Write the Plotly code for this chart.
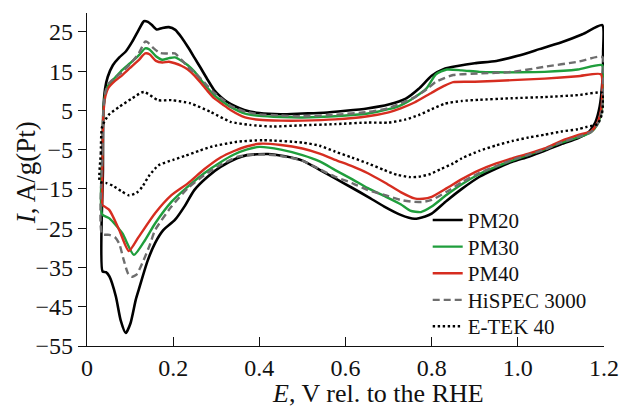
import plotly.graph_objects as go

# ---- data (E in V vs RHE, I in A/g(Pt)); closed CV loops: anodic sweep then cathodic sweep ----
pm20_E = [0.036, 0.037, 0.038, 0.042, 0.048, 0.06, 0.075, 0.09, 0.105, 0.12, 0.132, 0.14, 0.15, 0.162,
          0.175, 0.19, 0.205, 0.22, 0.235, 0.25, 0.265, 0.28, 0.295, 0.31, 0.325, 0.345, 0.365, 0.4, 0.45,
          0.5, 0.55, 0.6, 0.65, 0.7, 0.74, 0.77, 0.8, 0.83, 0.86, 0.9, 0.95, 1.0, 1.05, 1.1, 1.15, 1.196,
          1.198, 1.196, 1.19, 1.18, 1.165, 1.139, 1.1, 1.062, 1.025, 0.987, 0.95, 0.911, 0.87, 0.835, 0.8,
          0.785, 0.76, 0.728, 0.69, 0.652, 0.615, 0.576, 0.538, 0.5, 0.46, 0.42, 0.371, 0.348, 0.31, 0.28,
          0.249, 0.226, 0.204, 0.177, 0.158, 0.14, 0.12, 0.113, 0.101, 0.09, 0.078, 0.067, 0.052, 0.044, 0.036]
pm20_I = [-36.0, -10.0, 5.0, 10.5, 13.5, 16.5, 18.5, 20.0, 22.5, 25.5, 27.7, 27.6, 26.8, 25.6,
          26.0, 26.2, 25.5, 23.5, 21.0, 18.3, 15.6, 12.8, 10.2, 8.5, 7.2, 6.0, 5.1, 4.3, 4.0,
          4.2, 4.4, 4.9, 5.5, 6.5, 8.0, 10.5, 13.8, 15.6, 16.3, 17.0, 17.6, 18.9, 20.6, 22.3, 24.4, 26.7,
          20.0, 12.0, 6.0, 2.0, -0.5, -2.1, -3.6, -5.3, -6.8, -8.1, -9.8, -11.9, -15.0, -18.0, -21.3,
          -22.0, -22.6, -21.6, -19.5, -17.0, -14.7, -12.3, -10.0, -7.8, -6.7, -6.1, -6.4, -7.2, -9.4, -11.9,
          -15.3, -19.5, -22.9, -25.5, -28.8, -33.5, -40.7, -43.3, -49.2, -51.7, -48.4, -42.4, -37.3, -36.2, -36.0]

pm30_E = [0.035, 0.036, 0.038, 0.043, 0.05, 0.065, 0.082, 0.1, 0.12, 0.135, 0.145, 0.16, 0.175, 0.19,
          0.204, 0.22, 0.234, 0.25, 0.265, 0.28, 0.295, 0.315, 0.333, 0.367, 0.4, 0.45, 0.5, 0.576, 0.652,
          0.7, 0.728, 0.76, 0.788, 0.81, 0.835, 0.87, 0.911, 0.95, 1.0, 1.062, 1.139, 1.196,
          1.198, 1.195, 1.185, 1.17, 1.139, 1.1, 1.062, 1.025, 0.987, 0.95, 0.911, 0.87, 0.835, 0.8, 0.775,
          0.75, 0.728, 0.69, 0.652, 0.615, 0.576, 0.54, 0.5, 0.45, 0.4, 0.37, 0.34, 0.31, 0.272, 0.234, 0.196,
          0.158, 0.135, 0.109, 0.082, 0.052, 0.035]
pm30_I = [-21.5, -5.0, 5.0, 9.5, 11.5, 13.3, 15.3, 17.0, 19.0, 20.8, 20.5, 18.8, 17.9, 18.3,
          18.5, 17.6, 16.5, 14.8, 12.7, 10.7, 8.9, 7.2, 5.9, 4.2, 3.6, 3.3, 3.2, 3.5, 4.2,
          5.3, 6.3, 8.3, 10.6, 14.2, 15.4, 15.2, 14.8, 14.7, 14.7, 14.8, 15.4, 16.5,
          12.0, 5.0, 1.5, -0.5, -1.9, -3.2, -4.9, -6.3, -7.8, -9.3, -11.2, -13.8, -16.5, -19.5, -20.9,
          -20.5, -18.9, -16.8, -14.8, -12.5, -10.2, -8.0, -6.4, -5.0, -4.3, -5.0, -6.3, -8.2, -11.0, -14.4, -18.3,
          -23.8, -28.0, -31.8, -26.3, -22.5, -21.5]

pm40_E = [0.035, 0.036, 0.038, 0.043, 0.05, 0.065, 0.082, 0.1, 0.12, 0.135, 0.145, 0.16, 0.175, 0.19,
          0.204, 0.22, 0.234, 0.25, 0.265, 0.28, 0.295, 0.315, 0.333, 0.367, 0.4, 0.45, 0.5, 0.576, 0.652,
          0.7, 0.728, 0.76, 0.8, 0.83, 0.85, 0.9, 0.987, 1.062, 1.139, 1.193,
          1.196, 1.193, 1.184, 1.17, 1.139, 1.1, 1.062, 1.025, 0.987, 0.95, 0.911, 0.87, 0.835, 0.8, 0.78,
          0.76, 0.728, 0.69, 0.652, 0.615, 0.576, 0.54, 0.5, 0.45, 0.4, 0.37, 0.34, 0.31, 0.272, 0.234, 0.196,
          0.158, 0.12, 0.097, 0.075, 0.052, 0.035]
pm40_I = [-19.0, -5.0, 4.0, 8.8, 10.8, 12.5, 14.0, 15.8, 17.8, 19.5, 19.3, 17.6, 17.2, 17.4,
          17.0, 16.3, 15.4, 13.8, 11.9, 9.9, 8.1, 6.5, 5.1, 3.2, 2.6, 2.4, 2.4, 2.7, 3.5,
          4.5, 5.5, 7.0, 9.5, 11.3, 12.2, 12.3, 12.7, 13.1, 13.7, 14.2,
          10.0, 5.0, 1.7, -0.3, -1.3, -2.8, -4.7, -6.0, -7.2, -8.5, -10.2, -12.5, -14.8, -17.0, -17.5,
          -17.4, -15.8, -13.3, -11.0, -9.2, -7.6, -6.0, -4.7, -3.8, -3.5, -4.2, -5.4, -7.0, -10.0, -13.6, -16.6,
          -21.2, -27.2, -30.8, -25.5, -20.4, -19.1]

hisp_E = [0.035, 0.036, 0.038, 0.043, 0.05, 0.065, 0.082, 0.1, 0.12, 0.135, 0.14, 0.155, 0.17, 0.185,
          0.204, 0.22, 0.234, 0.25, 0.265, 0.28, 0.295, 0.315, 0.333, 0.367, 0.4, 0.45, 0.5, 0.576, 0.652,
          0.7, 0.728, 0.76, 0.79, 0.81, 0.85, 0.91, 0.987, 1.062, 1.14, 1.196,
          1.198, 1.195, 1.185, 1.17, 1.139, 1.1, 1.062, 1.025, 0.987, 0.95, 0.911, 0.87, 0.835, 0.8, 0.78,
          0.76, 0.728, 0.69, 0.652, 0.615, 0.576, 0.54, 0.5, 0.45, 0.4, 0.35, 0.31, 0.272, 0.234, 0.196,
          0.158, 0.145, 0.128, 0.115, 0.103, 0.095, 0.085, 0.075, 0.065, 0.052, 0.035]
hisp_I = [-26.5, -5.0, 5.0, 9.8, 11.8, 13.3, 14.8, 16.8, 19.5, 22.5, 22.4, 20.8, 19.6, 19.5,
          19.5, 17.8, 16.1, 14.6, 13.0, 11.2, 9.5, 7.8, 6.2, 4.7, 4.0, 3.7, 3.5, 3.9, 4.6,
          5.6, 6.8, 8.3, 10.5, 12.3, 14.0, 14.4, 14.8, 16.1, 17.4, 18.6,
          12.0, 5.0, 1.5, -0.5, -1.8, -3.2, -5.0, -6.3, -7.6, -9.2, -10.9, -13.3, -15.7, -17.8, -18.3,
          -18.3, -17.8, -16.5, -15.3, -13.5, -11.9, -10.0, -7.8, -6.6, -6.2, -6.8, -8.9, -11.5, -14.8, -19.5,
          -25.5, -29.5, -34.0, -36.8, -37.4, -36.5, -33.0, -29.0, -27.3, -26.7, -26.5]

etek_E = [0.03, 0.032, 0.035, 0.05, 0.075, 0.105, 0.132, 0.165, 0.196, 0.24, 0.287, 0.333, 0.378, 0.43,
          0.5, 0.576, 0.652, 0.7, 0.74, 0.77, 0.8, 0.83, 0.87, 0.91, 0.987, 1.062, 1.14, 1.196,
          1.198, 1.195, 1.185, 1.16, 1.139, 1.1, 1.062, 1.025, 0.987, 0.95, 0.911, 0.87, 0.85, 0.82, 0.797,
          0.77, 0.75, 0.72, 0.69, 0.652, 0.615, 0.576, 0.54, 0.5, 0.409, 0.348, 0.287, 0.26, 0.227, 0.2,
          0.166, 0.145, 0.128, 0.115, 0.097, 0.08, 0.06, 0.045, 0.03]
etek_I = [-13.2, -6.0, 0.8, 3.8, 5.9, 8.1, 9.7, 7.6, 7.6, 6.8, 4.6, 2.1, 1.3, 0.9,
          1.2, 1.5, 1.9, 1.9, 2.7, 3.8, 5.3, 6.7, 7.4, 7.7, 8.1, 8.4, 8.9, 9.5,
          8.0, 4.0, 1.5, 0.8, 0.2, -0.4, -1.2, -1.9, -2.8, -3.9, -5.3, -7.2, -8.5, -10.0, -11.2,
          -11.9, -12.0, -11.4, -10.2, -8.5, -7.0, -5.5, -4.0, -3.2, -2.6, -3.0, -4.3, -5.3, -6.6, -7.6,
          -9.0, -11.5, -14.5, -16.0, -16.6, -15.6, -14.2, -13.5, -13.2]

series_names = ["PM20", "PM30", "PM40", "HiSPEC 3000", "E-TEK 40"]
x_tick_vals = [0, 0.2, 0.4, 0.6, 0.8, 1.0, 1.2]
x_tick_text = ["0", "0.2", "0.4", "0.6", "0.8", "1.0", "1.2"]
y_tick_vals = [-55, -45, -35, -25, -15, -5, 5, 15, 25]

styles = [
    dict(color="#000000", width=2.6, dash="solid"),
    dict(color="#1f9e3c", width=2.4, dash="solid"),
    dict(color="#d62d20", width=2.4, dash="solid"),
    dict(color="#6e6e6e", width=2.4, dash="7px,4px"),
    dict(color="#000000", width=2.4, dash="2.4px,2.6px"),
]
data = [(pm20_E, pm20_I), (pm30_E, pm30_I), (pm40_E, pm40_I), (hisp_E, hisp_I), (etek_E, etek_I)]

FONT = "Liberation Serif, Times New Roman, serif"
TXT = "#111111"
legend_ids = ["legend", "legend2", "legend3", "legend4", "legend5"]
legend_tops = [0.439, 0.359, 0.279, 0.199, 0.120]

fig = go.Figure()
for name, (xs, ys), st, lid in zip(series_names, data, styles, legend_ids):
    fig.add_trace(go.Scatter(x=xs, y=ys, mode="lines", name=name, legend=lid,
                             line=dict(color=st["color"], width=st["width"], dash=st["dash"],
                                       shape="spline", smoothing=0.6)))

legend_layout = {}
for lid, ytop in zip(legend_ids, legend_tops):
    legend_layout[lid] = dict(x=0.659, y=ytop, xanchor="left", yanchor="top",
                              bgcolor="rgba(0,0,0,0)", font=dict(family=FONT, size=21, color=TXT),
                              itemwidth=30)

fig.update_layout(
    width=631, height=407,
    margin=dict(l=87, r=17, t=13, b=61),
    paper_bgcolor="white", plot_bgcolor="white",
    font=dict(family=FONT, size=21, color=TXT),
    showlegend=True,
    xaxis=dict(range=[0, 1.2], showgrid=False, zeroline=False, showline=True, linecolor=TXT,
               linewidth=1.3, ticks="inside", ticklen=9, tickwidth=1.3, tickcolor=TXT,
               tickvals=x_tick_vals, ticktext=x_tick_text, tickfont=dict(size=24)),
    yaxis=dict(range=[-55, 29.8], showgrid=False, zeroline=False, showline=True, linecolor=TXT,
               linewidth=1.3, ticks="outside", ticklen=8, tickwidth=1.3, tickcolor=TXT,
               tickvals=y_tick_vals, tickfont=dict(size=24)),
    annotations=[
        dict(text="<i>E</i>, V rel. to the RHE", xref="paper", yref="paper", x=0.562, y=-0.143,
             xanchor="center", yanchor="middle", showarrow=False, font=dict(family=FONT, size=26)),
        dict(text="<i>I</i>, A/g(Pt)", xref="paper", yref="paper", x=-0.118, y=0.522,
             xanchor="center", yanchor="middle", textangle=-90, showarrow=False,
             font=dict(family=FONT, size=27)),
    ],
    **legend_layout,
)
fig.write_html("out.html", config={"displayModeBar": False},
               post_script="document.body.style.margin='0px';")
